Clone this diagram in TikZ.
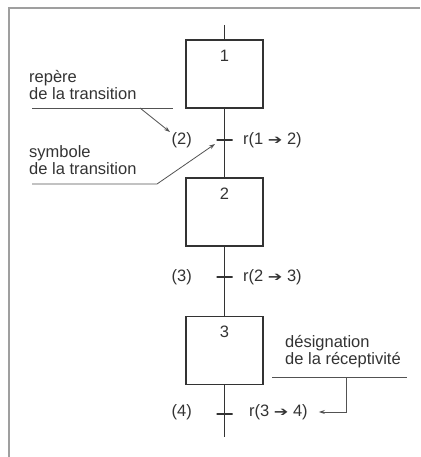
\documentclass[tikz,border=0pt]{standalone}
\usepackage{fontspec}
\usepackage{graphicx}
\setmainfont{Liberation Sans}
\newfontfamily\symfont{DejaVu Sans}
\usetikzlibrary{arrows.meta}
% short bold arrow used inside the receptivity names
\newcommand\rarrow{{\symfont\scalebox{1.05}[0.8]{➔}}}
\definecolor{ink}{gray}{0.2}
\begin{document}
\begin{tikzpicture}[x=1pt,y=-1pt,
    font=\fontsize{16.5}{17}\selectfont,
    every node/.style={text=ink},
    frame/.style={draw=gray!75, line width=1.6pt},
    link/.style={draw=ink, line width=1.1pt},
    stepbox/.style={draw=ink, line width=1.1pt, rectangle, minimum width=77pt, minimum height=68pt, inner sep=0pt},
    trans/.style={draw=ink, line width=1.1pt, rectangle, minimum width=16pt, minimum height=0pt, inner sep=0pt},
    txt/.style={inner sep=0pt},
    anno/.style={inner sep=0pt, align=left},
    leader/.style={draw=ink!85, line width=0.8pt},
    tip/.style={-{Stealth[length=6pt,width=4pt]}}
  ]
  \useasboundingbox (0,0) rectangle (420,457);

  % frame (left and top edges)
  \draw[frame] (9,457) -- (9,8) -- (420,8);

  % steps
  \node[stepbox, label={[name=l1,anchor=north,inner sep=0pt,yshift=-10pt]north:1}] (s1) at (224.5,74) {};
  \node[stepbox, label={[name=l2,anchor=north,inner sep=0pt,yshift=-10pt]north:2}] (s2) at (224.5,212) {};
  \node[stepbox, label={[name=l3,anchor=north,inner sep=0pt,yshift=-10pt]north:3}] (s3) at (224.5,350.5) {};

  % transitions
  \node[trans] (t1) at (224.5,140) {};
  \node[trans] (t2) at (224.5,277) {};
  \node[trans] (t3) at (224.5,414) {};

  % links
  \coordinate (in) at (224.5,25);
  \coordinate (out) at (224.5,437);
  \draw[link] (in) -- (s1.north);
  \draw[link] (s1.south) -- (s2.north);
  \draw[link] (s2.south) -- (s3.north);
  \draw[link] (s3.south) -- (out);

  % transition marks and receptivities
  \node[txt, anchor=east] (n2) at (192,140) {(2)};
  \node[txt, anchor=east] (n3) at (192,277) {(3)};
  \node[txt, anchor=east] (n4) at (192,412) {(4)};
  \node[txt, anchor=west] (r12) at (243,140) {r(1 \rarrow\ 2)};
  \node[txt, anchor=west] (r23) at (243,277) {r(2 \rarrow\ 3)};
  \node[txt, anchor=west] (r34) at (249,412) {r(3 \rarrow\ 4)};

  % annotations
  \node[anno, anchor=west] (rep) at (29,85) {repère\\de la transition};
  \node[anno, anchor=west] (sym) at (29,160) {symbole\\de la transition};
  \node[anno, anchor=west] (des) at (285,352) {désignation\\de la réceptivité};

  \coordinate (repA) at (32,108);
  \coordinate (repB) at (173,108);
  \coordinate (repC) at (140,108);
  \coordinate (repT) at (170,132);
  \draw[leader] (repA) -- (repB);
  \draw[leader, tip] (repC) -- (repT);

  \coordinate (symA) at (32,184);
  \coordinate (symB) at (157,184);
  \coordinate (symT) at (215,144);
  \draw[leader, tip] (symA) -- (symB) -- (symT);

  \coordinate (desA) at (272,377);
  \coordinate (desB) at (407,377);
  \coordinate (desC) at (346,377);
  \draw[leader] (desA) -- (desB);
  \draw[leader, tip, shorten >=11pt] (desC) |- (r34.east);
\end{tikzpicture}
\end{document}
